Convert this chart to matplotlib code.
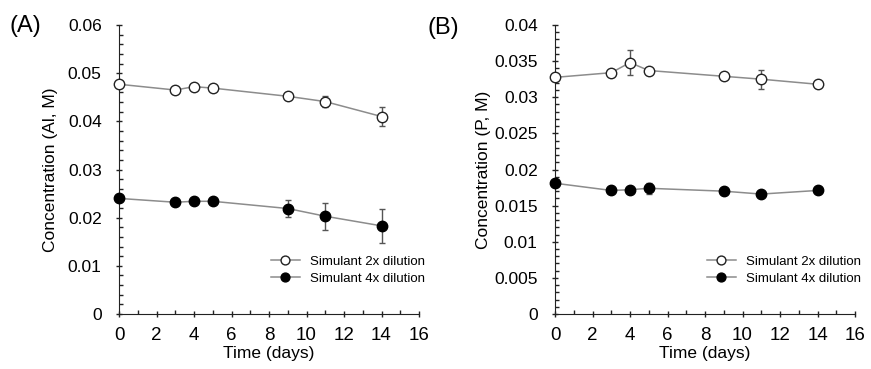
import matplotlib.pyplot as plt
from matplotlib.ticker import MultipleLocator, FuncFormatter

plt.rcParams['font.family'] = ['Liberation Sans', 'DejaVu Sans']

days = [0, 3, 4, 5, 9, 11, 14]

# panel A: aluminium
al_2x = [0.0477, 0.0465, 0.0472, 0.0469, 0.0452, 0.0441, 0.0410]
al_2x_err = [0.0003, 0.0003, 0.0003, 0.0003, 0.0004, 0.0012, 0.0019]
al_4x = [0.0240, 0.0232, 0.0234, 0.0234, 0.0219, 0.0203, 0.0183]
al_4x_err = [0.0003, 0.0003, 0.0003, 0.0003, 0.0018, 0.0028, 0.0036]

# panel B: phosphorus
p_2x = [0.03275, 0.0334, 0.0348, 0.0337, 0.0329, 0.0325, 0.0318]
p_2x_err = [0.0002, 0.0002, 0.0017, 0.0002, 0.0002, 0.0013, 0.0003]
p_4x = [0.0181, 0.0171, 0.0172, 0.0174, 0.0170, 0.0166, 0.0171]
p_4x_err = [0.0002, 0.0002, 0.0002, 0.0008, 0.0002, 0.0002, 0.0003]

fig = plt.figure(figsize=(8.71, 3.69), dpi=100)
W, H = 871, 369
ax = fig.add_axes([119 / W, 1 - 314 / H, 300 / W, 289 / H])
ax2 = fig.add_axes([555 / W, 1 - 314 / H, 300 / W, 289 / H])

line_col = '#8c8c8c'


def fmt(v, pos):
    if abs(v) < 1e-9:
        return '0'
    return ('%.3f' % v).rstrip('0')


def draw(a, y1, e1, y2, e2):
    for y, e, fc, lab in [(y1, e1, 'white', 'Simulant 2x dilution'),
                          (y2, e2, 'black', 'Simulant 4x dilution')]:
        a.errorbar(days, y, yerr=e, fmt='none', ecolor='#555555',
                   elinewidth=1, capsize=2.5, zorder=2, clip_on=False)
        a.plot(days, y, color=line_col, lw=1.1, marker='o', ms=7.5, mfc=fc,
               mec='#222222' if fc == 'white' else 'black', mew=1,
               label=lab, zorder=3, clip_on=False)
    a.set_xlim(0, 16)
    a.xaxis.set_major_locator(MultipleLocator(2))
    a.xaxis.set_minor_locator(MultipleLocator(1))
    a.yaxis.set_major_formatter(FuncFormatter(fmt))
    for s in ['top', 'right']:
        a.spines[s].set_visible(False)
    for s in ['left', 'bottom']:
        a.spines[s].set_color('#222222')
    a.tick_params(which='major', direction='inout', length=5, width=1,
                  labelsize=12.5, color='#222222')
    a.tick_params(axis='y', which='major', pad=10)
    a.tick_params(axis='x', which='major', labelsize=13.5, pad=7)
    a.tick_params(which='minor', direction='in', length=3, width=1, color='#222222')
    a.set_xlabel('Time (days)', fontsize=12.5, labelpad=1)
    a.legend(loc='lower right', bbox_to_anchor=(1.06, 0.06), frameon=False,
             fontsize=9.5, handlelength=2.2, handletextpad=0.8, labelspacing=0.35,
             markerscale=0.85)


draw(ax, al_2x, al_2x_err, al_4x, al_4x_err)
ax.set_ylim(0, 0.06)
ax.yaxis.set_major_locator(MultipleLocator(0.01))
ax.yaxis.set_minor_locator(MultipleLocator(0.002))
ax.set_ylabel('Concentration (Al, M)', fontsize=12.5, labelpad=7)

draw(ax2, p_2x, p_2x_err, p_4x, p_4x_err)
ax2.set_ylim(0, 0.04)
ax2.yaxis.set_major_locator(MultipleLocator(0.005))
ax2.yaxis.set_minor_locator(MultipleLocator(0.001))
ax2.set_ylabel('Concentration (P, M)', fontsize=12.5, labelpad=2)

fig.text(9 / W, 1 - 26 / H, '(A)', fontsize=17, va='center', ha='left')
fig.text(427 / W, 1 - 28 / H, '(B)', fontsize=17, va='center', ha='left')

fig.savefig('out.png', dpi=100)
